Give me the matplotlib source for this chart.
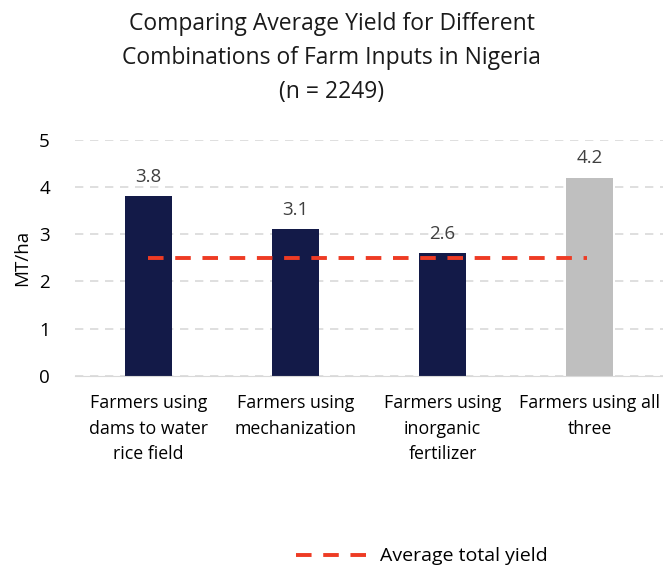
import numpy as np
import matplotlib.pyplot as plt

plt.rcParams['font.family'] = ['Open Sans', 'DejaVu Sans']

categories = ['Farmers using\ndams to water\nrice field', 'Farmers using\nmechanization',
              'Farmers using\ninorganic\nfertilizer', 'Farmers using all\nthree']
yields = [3.8, 3.1, 2.6, 4.2]
avg_total = [2.5, 2.5, 2.5, 2.5]
bar_colors = ['#131A48', '#131A48', '#131A48', '#BFBFBF']

fig = plt.figure(figsize=(6.63, 5.66), dpi=100)
ax = fig.add_axes([0.113, 0.336, 0.887, 0.417])

x = np.arange(len(categories))
bars = ax.bar(x, yields, width=0.32, color=bar_colors, zorder=2)
for xi, v in zip(x, yields):
    ax.text(xi, v + 0.22, f'{v:.1f}', ha='center', va='bottom', fontsize=13.5, color='#404040')

line, = ax.plot([0, 2.98], [avg_total[0], avg_total[-1]], '--', color='#EE3B24', lw=2.8,
                dashes=(4, 3), zorder=3, label='Average total yield')

ax.set_xlim(-0.5, 3.5)
ax.set_ylim(0, 5)
ax.set_yticks(range(6))
ax.yaxis.grid(True, ls=(0, (5, 4)), color='#D9D9D9', lw=1.2, zorder=0)
ax.set_axisbelow(True)
for s in ['top', 'right', 'left']:
    ax.spines[s].set_visible(False)
ax.spines['bottom'].set_color('#D9D9D9')
ax.tick_params(axis='both', length=0, labelsize=13.5, colors='black')
ax.tick_params(axis='y', pad=18)
ax.tick_params(axis='x', pad=13)
ax.set_xticks(x)
ax.set_xticklabels(categories, fontsize=12.8, linespacing=1.55)
ax.set_ylabel('MT/ha', fontsize=13.5, labelpad=6)

fig.suptitle('Comparing Average Yield for Different\nCombinations of Farm Inputs in Nigeria\n(n = 2249)',
             x=0.5, y=0.978, fontsize=16.5, linespacing=1.55, color='#1a1a1a')

fig.legend(handles=[line], loc='lower left', bbox_to_anchor=(0.42, -0.03), frameon=False,
           fontsize=14, handlelength=3.6, handletextpad=0.7)

fig.savefig('out.png', dpi=100)
